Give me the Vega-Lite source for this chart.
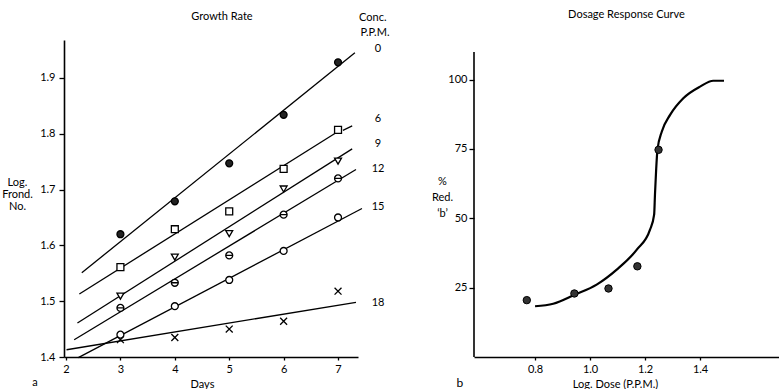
{
  "$schema": "https://vega.github.io/schema/vega-lite/v6.json",
  "background": "white",
  "padding": {"left": 1, "top": 9, "right": 0, "bottom": 0},
  "bounds": "flush",
  "spacing": 116,
  "config": {
    "font": "Lato",
    "view": {"stroke": null},
    "axis": {"grid": false, "domainColor": "black", "domainWidth": 1.6, "tickColor": "black", "tickWidth": 1.3, "labelColor": "black", "labelFont": "Lato", "labelFontSize": 11, "titleFont": "Lato", "titleFontSize": 11, "titleFontWeight": "normal", "titleColor": "black"},
    "title": {"font": "Lato", "fontSize": 11, "fontWeight": "normal", "color": "black"},
    "text": {"font": "Lato", "fontSize": 11, "color": "black"}
  },
  "datasets": {
    "growth": [
      {"conc": "0", "day": 3, "logf": 1.620}, {"conc": "0", "day": 4, "logf": 1.679}, {"conc": "0", "day": 5, "logf": 1.747}, {"conc": "0", "day": 6, "logf": 1.834}, {"conc": "0", "day": 7, "logf": 1.928},
      {"conc": "6", "day": 3, "logf": 1.561}, {"conc": "6", "day": 4, "logf": 1.629}, {"conc": "6", "day": 5, "logf": 1.661}, {"conc": "6", "day": 6, "logf": 1.737}, {"conc": "6", "day": 7, "logf": 1.807},
      {"conc": "9", "day": 3, "logf": 1.509}, {"conc": "9", "day": 4, "logf": 1.579}, {"conc": "9", "day": 5, "logf": 1.621}, {"conc": "9", "day": 6, "logf": 1.701}, {"conc": "9", "day": 7, "logf": 1.751},
      {"conc": "12", "day": 3, "logf": 1.488}, {"conc": "12", "day": 4, "logf": 1.533}, {"conc": "12", "day": 5, "logf": 1.582}, {"conc": "12", "day": 6, "logf": 1.655}, {"conc": "12", "day": 7, "logf": 1.720},
      {"conc": "15", "day": 3, "logf": 1.440}, {"conc": "15", "day": 4, "logf": 1.491}, {"conc": "15", "day": 5, "logf": 1.538}, {"conc": "15", "day": 6, "logf": 1.590}, {"conc": "15", "day": 7, "logf": 1.650},
      {"conc": "18", "day": 3, "logf": 1.431}, {"conc": "18", "day": 4, "logf": 1.435}, {"conc": "18", "day": 5, "logf": 1.450}, {"conc": "18", "day": 6, "logf": 1.464}, {"conc": "18", "day": 7, "logf": 1.518}
    ],
    "fits": [
      {"seg": "0", "day": 2.29, "logf": 1.551}, {"seg": "0", "day": 7.31, "logf": 1.945},
      {"seg": "6", "day": 2.245, "logf": 1.513}, {"seg": "6", "day": 7.0, "logf": 1.804},
      {"seg": "6b", "day": 7.09, "logf": 1.806}, {"seg": "6b", "day": 7.26, "logf": 1.814},
      {"seg": "9", "day": 2.21, "logf": 1.461}, {"seg": "9", "day": 7.26, "logf": 1.773},
      {"seg": "12", "day": 2.15, "logf": 1.431}, {"seg": "12", "day": 7.33, "logf": 1.736},
      {"seg": "15", "day": 2.226, "logf": 1.399}, {"seg": "15", "day": 7.44, "logf": 1.666},
      {"seg": "18", "day": 2.01, "logf": 1.413}, {"seg": "18", "day": 7.33, "logf": 1.498}
    ],
    "leftText": [
      {"day": 7.64, "logf": 2.008, "t": "Conc."},
      {"day": 7.68, "logf": 1.981, "t": "P.P.M."},
      {"day": 7.735, "logf": 1.952, "t": "0"},
      {"day": 7.735, "logf": 1.826, "t": "6"},
      {"day": 7.735, "logf": 1.781, "t": "9"},
      {"day": 7.735, "logf": 1.736, "t": "12"},
      {"day": 7.735, "logf": 1.668, "t": "15"},
      {"day": 7.735, "logf": 1.4975, "t": "18"},
      {"day": 1.43, "logf": 1.354, "t": "a"}
    ],
    "dosePts": [
      {"dose": 0.770, "red": 20.5}, {"dose": 0.943, "red": 22.9}, {"dose": 1.067, "red": 24.7}, {"dose": 1.172, "red": 32.7}, {"dose": 1.249, "red": 74.7}
    ],
    "curve": [
      {"dose": 0.800, "red": 18.3}, {"dose": 0.866, "red": 19.2}, {"dose": 0.945, "red": 22.5}, {"dose": 1.024, "red": 26.1}, {"dose": 1.097, "red": 31.5}, {"dose": 1.170, "red": 38.7}, {"dose": 1.218, "red": 45.9}, {"dose": 1.233, "red": 51.3}, {"dose": 1.236, "red": 58.5}, {"dose": 1.240, "red": 66.9}, {"dose": 1.245, "red": 74.7}, {"dose": 1.261, "red": 81.3}, {"dose": 1.291, "red": 87.3}, {"dose": 1.339, "red": 93.3}, {"dose": 1.400, "red": 97.5}, {"dose": 1.448, "red": 99.6}, {"dose": 1.487, "red": 99.6}
    ],
    "yAxisLine": [{"dose": 0.578, "red": 0, "red2": 110}],
    "rightText": [{"dose": 0.527, "red": -9.3, "t": "b"}]
  },
  "hconcat": [
    {
      "width": 294,
      "height": 317,
      "title": {"text": "Growth Rate", "dx": 11, "offset": -10},
      "layer": [
        {
          "data": {"name": "fits"},
          "mark": {"type": "line", "color": "black", "strokeWidth": 1.3},
          "encoding": {
            "x": {"field": "day", "type": "quantitative", "scale": {"domain": [1.963, 7.367], "nice": false, "zero": false},
              "axis": {"values": [2, 3, 4, 5, 6, 7], "format": "d", "title": "Days", "titleX": 138, "titleY": 27, "titleAlign": "center", "titleBaseline": "middle", "tickSize": 3, "labelPadding": 3}},
            "y": {"field": "logf", "type": "quantitative", "scale": {"domain": [1.4, 1.968], "nice": false, "zero": false},
              "axis": {"values": [1.4, 1.5, 1.6, 1.7, 1.8, 1.9], "format": ".1f", "title": ["Log.", "Frond.", "No."], "titleAngle": 0, "titleAlign": "center", "titleBaseline": "middle", "titleX": -47, "titleY": 142, "titleLineHeight": 12, "tickSize": 5, "labelPadding": 4}},
            "detail": {"field": "seg", "type": "nominal"}
          }
        },
        {
          "data": {"name": "growth"},
          "mark": {"type": "point", "stroke": "black", "strokeWidth": 1.3, "opacity": 1, "size": 48},
          "encoding": {
            "x": {"field": "day", "type": "quantitative"},
            "y": {"field": "logf", "type": "quantitative"},
            "shape": {"field": "conc", "type": "nominal", "legend": null,
              "scale": {"domain": ["0", "6", "9", "12", "15", "18"], "range": ["circle", "square", "triangle-down", "M-1,0A1,1,0,1,1,1,0A1,1,0,1,1,-1,0ZM-1,0L1,0", "circle", "M-1,-1L1,1M-1,1L1,-1"]}},
            "fill": {"field": "conc", "type": "nominal", "legend": null,
              "scale": {"domain": ["0", "6", "9", "12", "15", "18"], "range": ["#222222", "white", "white", "white", "white", "white"]}}
          }
        },
        {
          "data": {"name": "leftText"},
          "mark": {"type": "text", "align": "center", "baseline": "middle", "fontSize": 11},
          "encoding": {
            "x": {"field": "day", "type": "quantitative"},
            "y": {"field": "logf", "type": "quantitative"},
            "text": {"field": "t"}
          }
        }
      ]
    },
    {
      "width": 305,
      "height": 317,
      "title": {"text": "Dosage Response Curve", "offset": 20},
      "layer": [
        {
          "data": {"name": "curve"},
          "mark": {"type": "line", "color": "black", "strokeWidth": 2.2, "interpolate": "monotone"},
          "encoding": {
            "x": {"field": "dose", "type": "quantitative", "scale": {"domain": [0.578, 1.687], "nice": false, "zero": false},
              "axis": {"values": [0.8, 1.0, 1.2, 1.4], "format": ".1f", "title": "Log. Dose (P.P.M.)", "titleX": 141, "titleY": 27, "titleAlign": "center", "titleBaseline": "middle", "tickSize": 3, "labelPadding": 3}},
            "y": {"field": "red", "type": "quantitative", "scale": {"domain": [0, 114.3], "nice": false, "zero": false},
              "axis": {"values": [25, 50, 75, 100], "domain": false, "title": ["%", "Red.", "‘b’"], "titleAngle": 0, "titleAlign": "center", "titleBaseline": "middle", "titleX": -32, "titleY": 141, "titleLineHeight": 16, "tickSize": 5, "labelPadding": 2}}
          }
        },
        {
          "data": {"name": "yAxisLine"},
          "mark": {"type": "rule", "color": "black", "strokeWidth": 1.6},
          "encoding": {
            "x": {"field": "dose", "type": "quantitative"},
            "y": {"field": "red", "type": "quantitative"},
            "y2": {"field": "red2"}
          }
        },
        {
          "data": {"name": "dosePts"},
          "mark": {"type": "point", "shape": "circle", "filled": true, "fill": "#333333", "stroke": "black", "strokeWidth": 1, "opacity": 1, "size": 55},
          "encoding": {
            "x": {"field": "dose", "type": "quantitative"},
            "y": {"field": "red", "type": "quantitative"}
          }
        },
        {
          "data": {"name": "rightText"},
          "mark": {"type": "text", "align": "center", "baseline": "middle", "fontSize": 12},
          "encoding": {
            "x": {"field": "dose", "type": "quantitative"},
            "y": {"field": "red", "type": "quantitative"},
            "text": {"field": "t"}
          }
        }
      ]
    }
  ]
}
